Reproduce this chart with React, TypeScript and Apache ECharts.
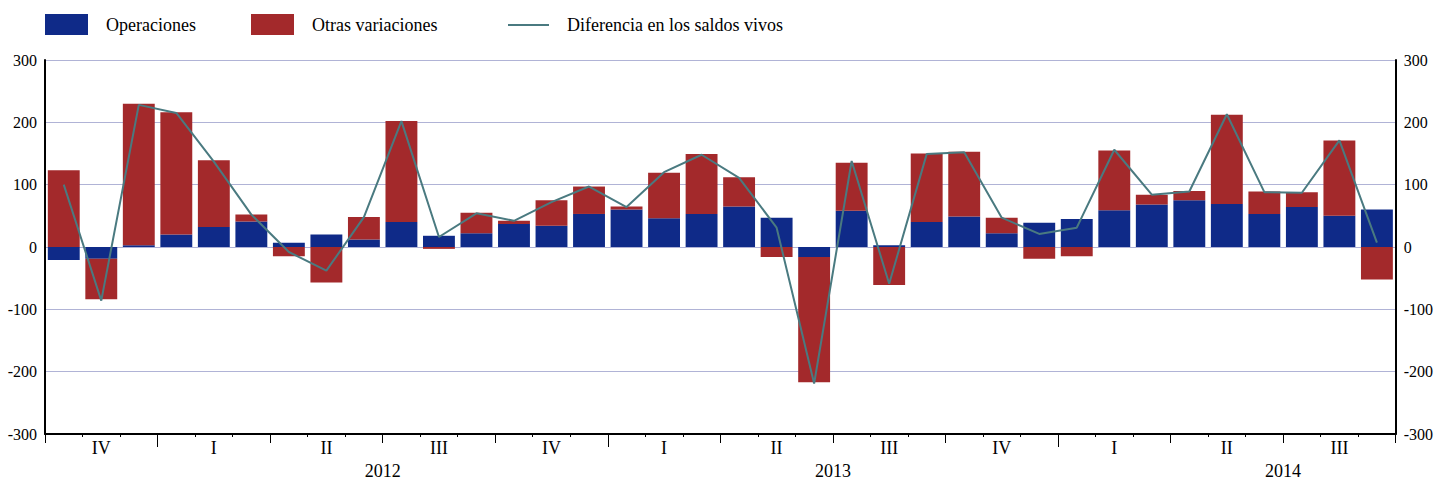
import { useEffect, useRef } from "react";
import * as echarts from "echarts";

const months = [
  "2011-10", "2011-11", "2011-12",
  "2012-01", "2012-02", "2012-03", "2012-04", "2012-05", "2012-06",
  "2012-07", "2012-08", "2012-09", "2012-10", "2012-11", "2012-12",
  "2013-01", "2013-02", "2013-03", "2013-04", "2013-05", "2013-06",
  "2013-07", "2013-08", "2013-09", "2013-10", "2013-11", "2013-12",
  "2014-01", "2014-02", "2014-03", "2014-04", "2014-05", "2014-06",
  "2014-07", "2014-08", "2014-09",
];

const operaciones = [
  -21, -19, 3,
  20, 32, 41, 7, 20, 12, 40, 18, 22, 37, 34, 53,
  60, 46, 53, 65, 47, -16, 58, 3, 40, 49, 22, 39,
  45, 59, 68, 75, 69, 53, 64, 50, 60,
];

const otrasVariaciones = [
  123, -65, 227,
  196, 107, 11, -15, -57, 36, 162, -3, 33, 5, 41, 44,
  5, 73, 96, 47, -16, -201, 77, -61, 110, 104, 25, -19,
  -15, 96, 16, 15, 143, 36, 24, 121, -52,
];

const diferencia = [
  100, -86, 228,
  215, 137, 52, -8, -38, 48, 202, 16, 54, 42, 72, 97,
  64, 120, 148, 111, 31, -219, 138, -59, 149, 152, 47, 21,
  31, 156, 84, 89, 213, 88, 87, 171, 7,
];

const quarterLabels = ["IV", "I", "II", "III", "IV", "I", "II", "III", "IV", "I", "II", "III"];
const yearLabels = ["2012", "2013", "2014"];
const yearStartMonths = [3, 15, 27];

const BLUE = "#0f2a88";
const RED = "#a3292b";
const TEAL = "#4a7a80";
const GRID = "#b0b3d6";
const FONT = "Liberation Serif";

export default function App() {
  const ref = useRef<HTMLDivElement>(null);
  useEffect(() => {
    const chart = echarts.init(ref.current!, null, { renderer: "svg" });
    const n = months.length;
    const quarterBounds = Array.from({ length: n / 3 + 1 }, (_, i) => i * 3);
    const quarterCenters = quarterLabels.map((_, i) => i * 3 + 1.5);
    const yearCenters = yearStartMonths.map((s) => s + 6);

    const legendBase = {
      top: 14,
      padding: 0,
      itemWidth: 43,
      itemHeight: 21,
      icon: "rect",
      textStyle: { fontFamily: FONT, fontSize: 18, color: "#000", padding: [0, 0, 0, 13] },
    };

    const yAxisBase = {
      type: "value",
      min: -300,
      max: 300,
      interval: 100,
      axisLine: { show: true, onZero: false, lineStyle: { color: "#000", width: 2 } },
      axisTick: { show: false },
      axisLabel: { fontFamily: FONT, fontSize: 16, color: "#000", margin: 8 },
    };

    const decoAxisBase = {
      type: "value",
      min: 0,
      max: n,
      position: "bottom",
      axisLine: { show: false, onZero: false },
      splitLine: { show: false },
    };

    chart.setOption({
      animation: false,
      backgroundColor: "#fff",
      textStyle: { fontFamily: FONT },
      legend: [
        { ...legendBase, left: 45, data: ["Operaciones"] },
        { ...legendBase, left: 251, data: ["Otras variaciones"] },
        { ...legendBase, left: 508, top: 16, itemWidth: 41, itemHeight: 2, data: ["Diferencia en los saldos vivos"] },
      ],
      grid: { left: 45, right: 36, top: 60, bottom: 47 },
      xAxis: [
        {
          type: "category",
          data: months,
          position: "bottom",
          boundaryGap: true,
          axisLine: { show: true, onZero: false, lineStyle: { color: "#000", width: 2 } },
          axisTick: { show: true, interval: 0, length: 3, lineStyle: { color: "#000" } },
          axisLabel: { show: false },
          splitLine: { show: false },
        },
        {
          ...decoAxisBase,
          axisTick: { show: true, customValues: quarterBounds, length: 9, lineStyle: { color: "#000" } },
          axisLabel: {
            show: true,
            customValues: quarterCenters,
            formatter: (v: number) => quarterLabels[Math.floor(v / 3)],
            fontFamily: FONT,
            fontSize: 18,
            color: "#000",
            margin: 5,
          },
        },
        {
          ...decoAxisBase,
          axisTick: { show: true, customValues: yearStartMonths, length: 13, lineStyle: { color: "#000" } },
          axisLabel: {
            show: true,
            customValues: yearCenters,
            formatter: (v: number) => yearLabels[Math.round((v - yearCenters[0]) / 12)],
            fontFamily: FONT,
            fontSize: 18,
            color: "#000",
            margin: 28,
          },
        },
      ],
      yAxis: [
        {
          ...yAxisBase,
          position: "left",
          splitLine: { show: true, lineStyle: { color: GRID, width: 1.2 } },
        },
        {
          ...yAxisBase,
          position: "right",
          splitLine: { show: false },
        },
      ],
      series: [
        {
          name: "Operaciones",
          type: "bar",
          stack: "total",
          data: operaciones,
          barCategoryGap: "15%",
          itemStyle: { color: BLUE },
        },
        {
          name: "Otras variaciones",
          type: "bar",
          stack: "total",
          data: otrasVariaciones,
          barCategoryGap: "15%",
          itemStyle: { color: RED },
        },
        {
          name: "Diferencia en los saldos vivos",
          type: "line",
          data: diferencia,
          symbol: "none",
          z: 5,
          lineStyle: { color: TEAL, width: 2 },
          itemStyle: { color: TEAL },
        },
      ],
    });
    return () => chart.dispose();
  }, []);
  return (
    <div
      ref={ref}
      style={{ position: "fixed", left: 0, top: 0, width: 1436, height: 481 }}
    />
  );
}
